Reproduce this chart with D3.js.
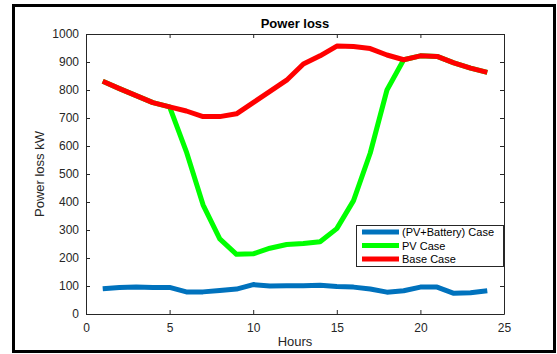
<!DOCTYPE html>
<html>
<head>
<meta charset="utf-8">
<script src="https://cdn.jsdelivr.net/npm/d3@7"></script>
<style>
  body { margin: 0; background: #fff; }
  svg { font-family: "Liberation Sans", Arial, sans-serif; }
</style>
</head>
<body>
<div id="chart"></div>
<script>
// Data
const hours = d3.range(1, 25);
const batteryCase = [90, 95, 96, 95, 95, 79, 79, 84, 89, 105, 100, 101, 101, 103, 98, 96, 89, 78, 83, 96, 96, 74, 76, 83];
const pvCase = [831, 805, 780, 755, 740, 580, 390, 268, 213, 215, 235, 248, 252, 258, 305, 405, 575, 800, 908, 922, 920, 897, 878, 863];
const baseCase = [831, 805, 780, 755, 740, 725, 705, 705, 715, 755, 795, 835, 893, 922, 957, 955, 948, 925, 908, 922, 920, 897, 878, 863];
const xTicks = [0, 5, 10, 15, 20, 25];
const yTicks = [0, 100, 200, 300, 400, 500, 600, 700, 800, 900, 1000];

const series = [
    { name: '(PV+Battery) Case', values: batteryCase, color: '#0072BD' },
    { name: 'PV Case', values: pvCase, color: '#00FF00' },
    { name: 'Base Case', values: baseCase, color: '#FF0000' }
];

const W = 557, H = 354;
const margin = { top: 34, right: 53, bottom: 40, left: 86 };
const width = W - margin.left - margin.right;
const height = H - margin.top - margin.bottom;

const svg = d3.select('#chart')
    .append('svg')
    .attr('width', W)
    .attr('height', H);

// outer frame
svg.append('rect')
    .attr('x', 13.5).attr('y', 5.5)
    .attr('width', 541).attr('height', 346)
    .attr('fill', 'none')
    .attr('stroke', '#000')
    .attr('stroke-width', 3);

const g = svg.append('g')
    .attr('transform', `translate(${margin.left},${margin.top})`);

const x = d3.scaleLinear().domain([0, 25]).range([0, width]);
const y = d3.scaleLinear().domain([0, 1000]).range([height, 0]);

// axes (ticks inward, like MATLAB)
const xAxis = g.append('g')
    .attr('transform', `translate(0,${height})`)
    .call(d3.axisBottom(x).tickValues(xTicks).tickFormat(d3.format('d')).tickSize(-4).tickPadding(9).tickSizeOuter(0));
const xTop = g.append('g')
    .call(d3.axisTop(x).tickValues(xTicks).tickSize(-4).tickFormat('').tickSizeOuter(0));
const yAxis = g.append('g')
    .call(d3.axisLeft(y).tickValues(yTicks).tickFormat(d3.format('d')).tickSize(-4).tickPadding(7).tickSizeOuter(0));
const yRight = g.append('g')
    .attr('transform', `translate(${width},0)`)
    .call(d3.axisRight(y).tickValues(yTicks).tickSize(-4).tickFormat('').tickSizeOuter(0));

[xAxis, xTop, yAxis, yRight].forEach(a => {
    a.selectAll('path').attr('stroke', '#262626').attr('stroke-width', 1);
    a.selectAll('line').attr('stroke', '#262626');
    a.selectAll('text').attr('fill', '#262626').style('font-size', '12px');
});

// lines
const line = d3.line()
    .x((d, i) => x(hours[i]))
    .y(d => y(d));

series.forEach(s => {
    g.append('path')
        .datum(s.values)
        .attr('d', line)
        .attr('fill', 'none')
        .attr('stroke', s.color)
        .attr('stroke-width', 5)
        .attr('stroke-linejoin', 'round');
});

// title and labels
svg.append('text')
    .attr('x', margin.left + width / 2)
    .attr('y', 28)
    .attr('text-anchor', 'middle')
    .style('font-size', '13px')
    .style('font-weight', 'bold')
    .text('Power loss');

svg.append('text')
    .attr('x', margin.left + width / 2)
    .attr('y', 346)
    .attr('text-anchor', 'middle')
    .attr('fill', '#262626')
    .style('font-size', '13px')
    .text('Hours');

svg.append('text')
    .attr('transform', 'rotate(-90)')
    .attr('x', -(margin.top + height / 2))
    .attr('y', 44)
    .attr('text-anchor', 'middle')
    .attr('fill', '#262626')
    .style('font-size', '13px')
    .text('Power loss kW');

// legend
const legend = svg.append('g').attr('transform', 'translate(356,225)');
legend.append('rect')
    .attr('x', 0.5).attr('y', 0.5)
    .attr('width', 147).attr('height', 41)
    .attr('fill', '#fff')
    .attr('stroke', '#262626')
    .attr('stroke-width', 1);
series.forEach((s, i) => {
    const row = legend.append('g').attr('transform', `translate(0,${7 + i * 13.5})`);
    row.append('line')
        .attr('x1', 6).attr('x2', 43)
        .attr('y1', 0).attr('y2', 0)
        .attr('stroke', s.color)
        .attr('stroke-width', 5);
    row.append('text')
        .attr('x', 46).attr('y', 4)
        .style('font-size', '11px')
        .attr('fill', '#000')
        .text(s.name);
});
</script>
</body>
</html>
